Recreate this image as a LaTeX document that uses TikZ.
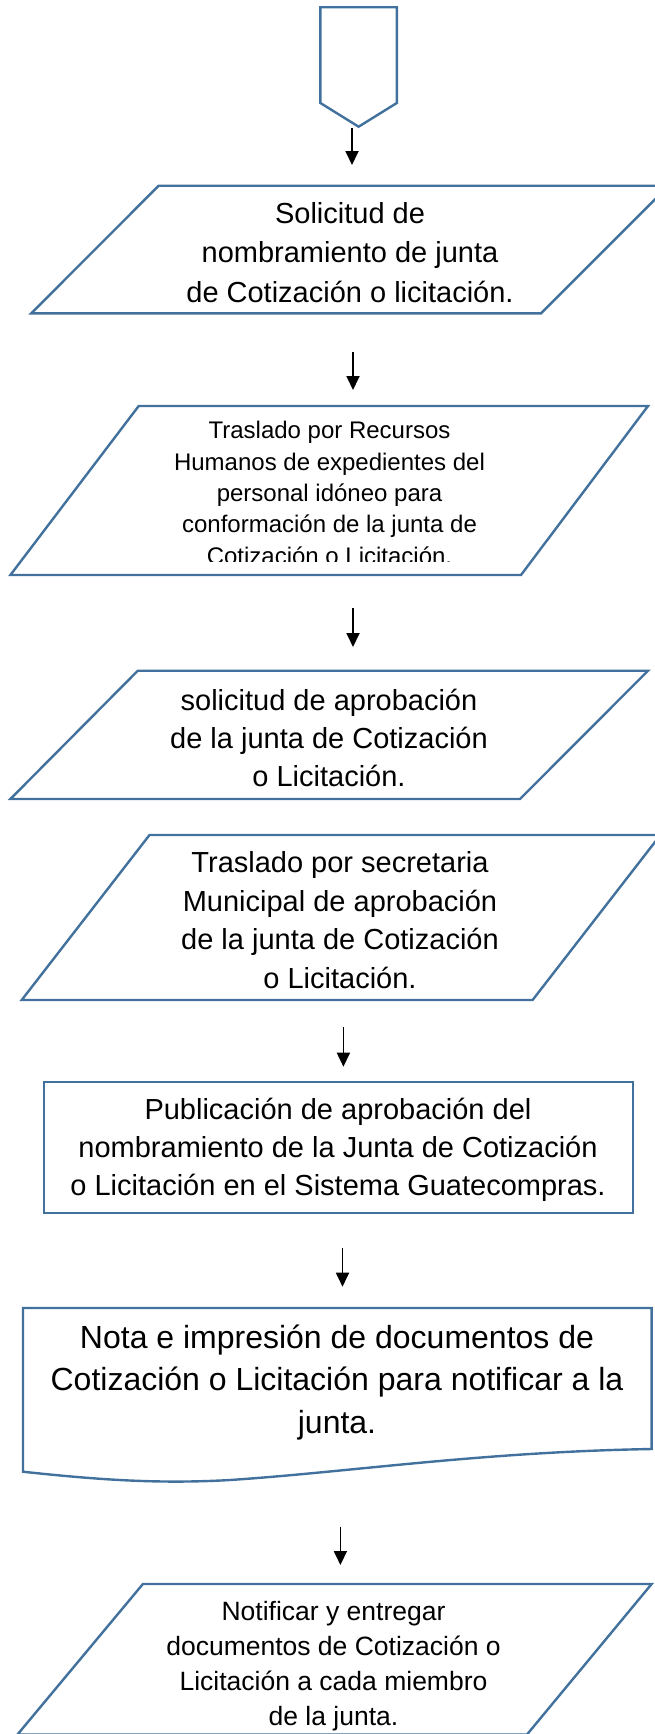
\documentclass[tikz,border=0pt]{standalone}
\usepackage{fontspec}
\setmainfont{Liberation Sans}
\usetikzlibrary{arrows.meta}
\definecolor{shapeblue}{RGB}{65,113,156}
\begin{document}
\begin{tikzpicture}[x=1pt,y=-1pt,
  shapeline/.style={draw=shapeblue,line width=2.4pt,line join=miter},
  flow/.style={draw=black,line width=1.8pt,-{Triangle[width=13pt,length=14pt]}},
  boxtext/.style={align=center,anchor=base,inner sep=0pt,text=black}]
\useasboundingbox (0,0) rectangle (655,1734);

% start connector (pentagon)
\draw[shapeline] (320.4,7.3) -- (396.8,7.3) -- (396.8,103) -- (358.6,126.7) -- (320.4,103) -- cycle;

% box 1
\draw[shapeline] (158.7,185.7) -- (668.6,185.7) -- (541,313.3) -- (31.3,313.3) -- cycle;
\node[boxtext,font=\fontsize{29}{39.5}\selectfont] (t1) at (350,302)
  {Solicitud de\\nombramiento de junta\\de Cotización o licitación.};

% box 2
\draw[shapeline] (138.7,406) -- (648,406) -- (521,575) -- (10.4,575) -- cycle;
\begin{scope}
  \clip (0,400) rectangle (655,561.5);
  \node[boxtext,font=\fontsize{24}{31.3}\selectfont] (t2) at (329.5,564)
    {Traslado por Recursos\\Humanos de expedientes del\\personal idóneo para\\conformación de la junta de\\Cotización o Licitación.};
\end{scope}

% box 3
\draw[shapeline] (137.8,670.7) -- (648,670.7) -- (520,799) -- (10.4,799) -- cycle;
\node[boxtext,font=\fontsize{29}{38.3}\selectfont] (t3) at (329,786.7)
  {solicitud de aprobación\\de la junta de Cotización\\o Licitación.};

% box 4
\draw[shapeline] (149.5,835) -- (660.4,835) -- (532.6,1000) -- (21.7,1000) -- cycle;
\node[boxtext,font=\fontsize{29}{38.4}\selectfont] (t4) at (340,988)
  {Traslado por secretaria\\Municipal de aprobación\\de la junta de Cotización\\o Licitación.};

% rectangle
\draw[shapeline] (43.9,1081.7) rectangle (632.8,1212.7);
\node[boxtext,font=\fontsize{29}{37.9}\selectfont] (t5) at (338,1195.7)
  {Publicación de aprobación del\\nombramiento de la Junta de Cotización\\o Licitación en el Sistema Guatecompras.};

% document shape
\draw[shapeline] (23,1308) -- (651.6,1308) -- (651.6,1449)
  .. controls (480,1452) and (350,1472) .. (230,1480)
  .. controls (160,1484) and (100,1480) .. (23,1471.7) -- cycle;
\node[boxtext,font=\fontsize{32}{42.5}\selectfont] (t6) at (337,1433)
  {Nota e impresión de documentos de\\Cotización o Licitación para notificar a la\\junta.};

% box 5
\draw[shapeline] (142.9,1584) -- (651.6,1584) -- (527,1734.5) -- (17.5,1734.5) -- cycle;
\node[boxtext,font=\fontsize{26.5}{35}\selectfont] (t7) at (333.5,1725)
  {Notificar y entregar\\documentos de Cotización o\\Licitación a cada miembro\\de la junta.};

% connectors
\coordinate (a1s) at (352,128);   \coordinate (a1e) at (352,165);
\coordinate (a2s) at (353,351.7); \coordinate (a2e) at (353,390);
\coordinate (a3s) at (353,608);   \coordinate (a3e) at (353,647);
\coordinate (a4s) at (343.4,1027);\coordinate (a4e) at (343.4,1066.7);
\coordinate (a5s) at (342.5,1248);\coordinate (a5e) at (342.5,1286.7);
\coordinate (a6s) at (340.4,1526.7);\coordinate (a6e) at (340.4,1565);
\draw[flow] (a1s) -- (a1e);
\draw[flow] (a2s) -- (a2e);
\draw[flow] (a3s) -- (a3e);
\draw[flow] (a4s) -- (a4e);
\draw[flow] (a5s) -- (a5e);
\draw[flow] (a6s) -- (a6e);
\end{tikzpicture}
\end{document}
